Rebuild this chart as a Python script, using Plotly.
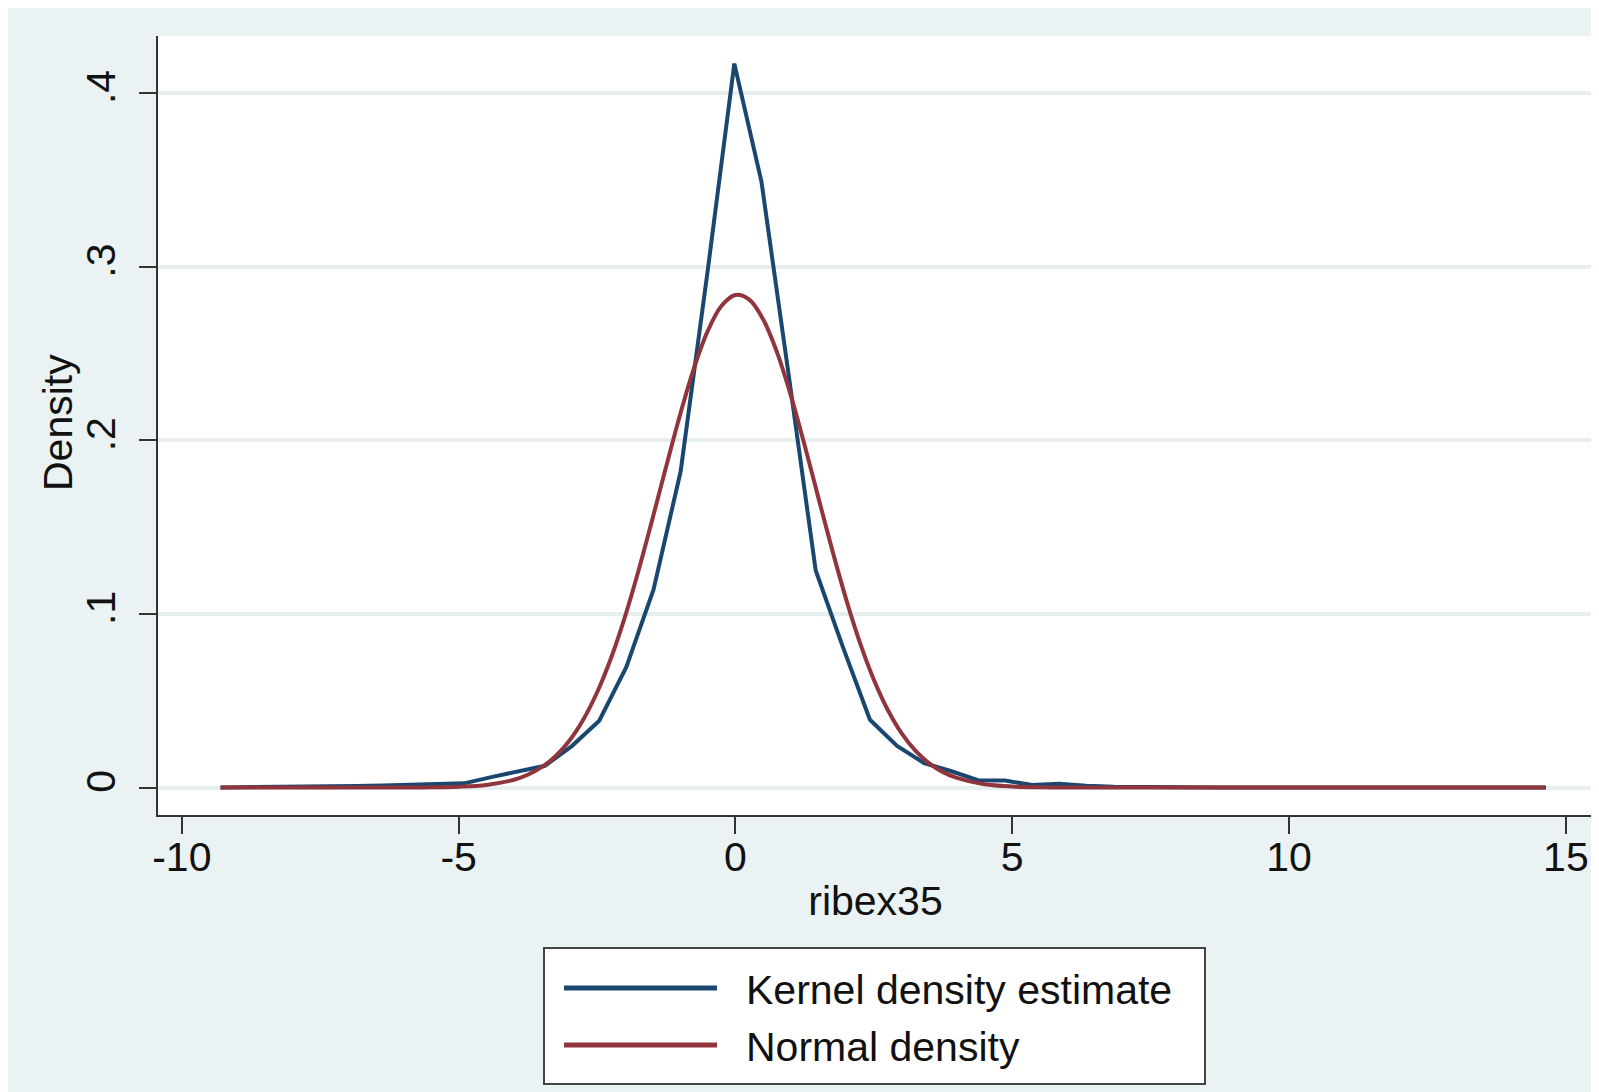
import plotly.graph_objects as go

# Kernel density estimate (50 evaluation points)
kde_x = [-9.30, -8.81, -8.32, -7.83, -7.35, -6.86, -6.37, -5.88, -5.39, -4.90,
         -4.41, -3.93, -3.44, -2.95, -2.46, -1.97, -1.48, -0.99, -0.50, -0.02,
         0.47, 0.96, 1.45, 1.94, 2.43, 2.92, 3.41, 3.89, 4.38, 4.87,
         5.36, 5.85, 6.34, 6.83, 7.32, 7.81, 8.30, 8.78, 9.27, 9.76,
         10.25, 10.74, 11.23, 11.72, 12.21, 12.70, 13.19, 13.68, 14.16, 14.64]
kde_y = [0.0000, 0.0001, 0.0001, 0.0002, 0.0004, 0.0009, 0.0012, 0.0016, 0.0022, 0.0024,
         0.0060, 0.0090, 0.0125, 0.0240, 0.0385, 0.0695, 0.1140, 0.1820, 0.2980, 0.4170,
         0.3490, 0.2380, 0.1250, 0.0810, 0.0390, 0.0240, 0.0140, 0.0095, 0.0042, 0.0040,
         0.0014, 0.0022, 0.0010, 0.0004, 0.0002, 0.0001, 0.0001, 0.0000, 0.0000, 0.0000,
         0.0000, 0.0000, 0.0000, 0.0000, 0.0000, 0.0000, 0.0000, 0.0000, 0.0000, 0.0000]

# Normal density overlay
norm_x = [-9.30, -7.0, -6.0, -5.5, -5.0, -4.5, -4.0, -3.75, -3.5, -3.25, -3.0, -2.75, -2.5,
          -2.25, -2.0, -1.75, -1.5, -1.25, -1.0, -0.75, -0.5, -0.25, 0.0, 0.25, 0.5, 0.75,
          1.0, 1.25, 1.5, 1.75, 2.0, 2.25, 2.5, 2.75, 3.0, 3.25, 3.5, 3.75, 4.0, 4.5, 5.0,
          5.5, 6.0, 7.0, 14.62]
norm_y = [0.0000, 0.0000, 0.00003, 0.00012, 0.00045, 0.0015, 0.00445, 0.00733, 0.0117, 0.0180,
          0.0269, 0.0390, 0.0547, 0.0743, 0.0979, 0.1250, 0.1546, 0.1850, 0.2147, 0.2414,
          0.2630, 0.2775, 0.2837, 0.2810, 0.2697, 0.2508, 0.2259, 0.1971, 0.1667, 0.1366,
          0.1084, 0.0833, 0.0621, 0.0448, 0.0313, 0.0212, 0.0139, 0.00886, 0.0055, 0.0019,
          0.0006, 0.00015, 0.00004, 0.0000, 0.0000]

x_ticks = [-10, -5, 0, 5, 10, 15]
x_labels = ["-10", "-5", "0", "5", "10", "15"]
y_ticks = [0, 0.1, 0.2, 0.3, 0.4]
y_labels = ["0", ".1", ".2", ".3", ".4"]
series_names = ["Kernel density estimate", "Normal density"]

BLUE = "#1a476f"
RED = "#90353b"
BG = "#eaf2f3"
FONT = "Liberation Sans, Arial, sans-serif"
FS = 41

fig = go.Figure()
fig.add_trace(go.Scatter(x=kde_x, y=kde_y, mode="lines", name=series_names[0],
                         line=dict(color=BLUE, width=4)))
fig.add_trace(go.Scatter(x=norm_x, y=norm_y, mode="lines", name=series_names[1],
                         line=dict(color=RED, width=4, shape="spline", smoothing=1.0)))

W, H = 1599, 1092
L, R, T, B = 150, 14, 28, 285
pw, ph = W - L - R, H - T - B

def px(xp):
    return (xp - L) / pw

def py(yp):
    return (H - B - yp) / ph

# manual legend (figure pixel coordinates)
leg_x0, leg_x1, leg_y0, leg_y1 = 536, 1197, 940, 1076
line_x0, line_x1 = 556, 709
row_y = [980, 1037]
text_x = 736
colors = [BLUE, RED]

shapes = [dict(type="rect", xref="paper", yref="paper",
               x0=px(leg_x0), x1=px(leg_x1), y0=py(leg_y1), y1=py(leg_y0),
               fillcolor="white", line=dict(color="#444444", width=2), layer="above")]
annotations = []
for name, c, ry in zip(series_names, colors, row_y):
    shapes.append(dict(type="line", xref="paper", yref="paper",
                       x0=px(line_x0), x1=px(line_x1), y0=py(ry), y1=py(ry),
                       line=dict(color=c, width=5), layer="above"))
    annotations.append(dict(text=name, xref="paper", yref="paper", x=px(text_x), y=py(ry + 2),
                            xanchor="left", yanchor="middle", showarrow=False,
                            font=dict(size=FS, family=FONT, color="#111111")))

annotations.append(dict(text="Density", xref="paper", yref="paper", x=px(50), y=py(415),
                        xanchor="center", yanchor="middle", textangle=-90, showarrow=False,
                        font=dict(size=FS, family=FONT, color="#111111")))

fig.update_layout(
    width=W, height=H,
    margin=dict(l=L, r=R, t=T, b=B, autoexpand=False),
    paper_bgcolor=BG, plot_bgcolor="white",
    font=dict(family=FONT, size=FS, color="#111111"),
    showlegend=False,
    shapes=shapes,
    annotations=annotations,
)

fig.update_xaxes(
    range=[-10.43, 15.49], tickmode="array", tickvals=x_ticks, ticktext=x_labels,
    showgrid=False, zeroline=False, showline=True, linecolor="#333333", linewidth=2,
    ticks="outside", ticklen=17, tickwidth=2, tickcolor="#333333",
    tickfont=dict(size=FS, family=FONT), ticklabelstandoff=-12,
    title=dict(text="ribex35", font=dict(size=FS, family=FONT), standoff=7),
)
fig.update_yaxes(
    range=[-0.01584, 0.4329], tickmode="array", tickvals=y_ticks, ticktext=y_labels,
    showgrid=True, gridcolor="#e6eef0", gridwidth=4, zeroline=False,
    showline=True, linecolor="#333333", linewidth=2,
    ticks="outside", ticklen=17, tickwidth=2, tickcolor="#333333",
    tickangle=-90, tickfont=dict(size=FS, family=FONT), ticklabelstandoff=8,
)

fig.write_html("out.html")
